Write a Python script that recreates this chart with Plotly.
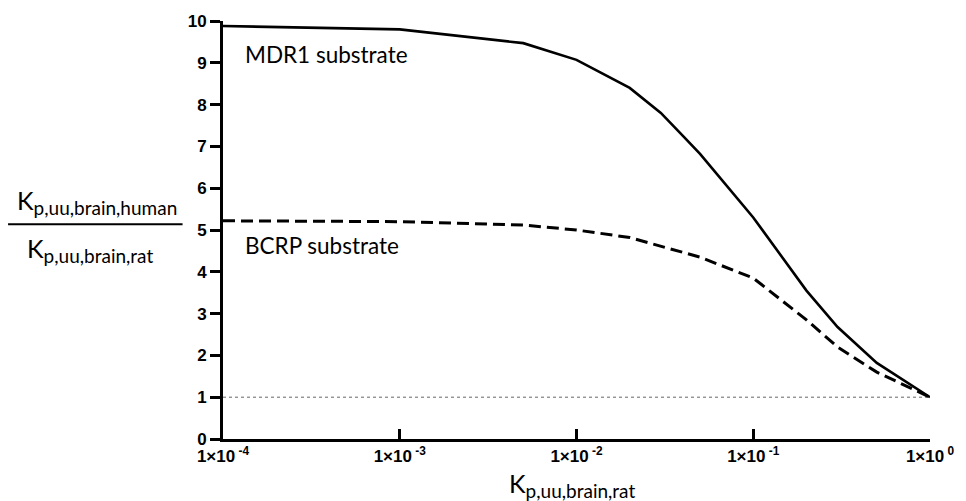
import plotly.graph_objects as go

# Data
x_vals = [1e-4, 1e-3, 5e-3, 1e-2, 2e-2, 3e-2, 4e-2, 5e-2, 1e-1, 2e-1, 3e-1, 5e-1, 1.0]
mdr1 = [9.88, 9.80, 9.47, 9.07, 8.40, 7.80, 7.25, 6.82, 5.30, 3.55, 2.68, 1.82, 1.0]

bcrp_x = [1e-4, 1e-3, 5e-3, 1e-2, 2e-2, 5e-2, 1e-1, 2e-1, 3e-1, 5e-1, 1.0]
bcrp = [5.22, 5.20, 5.12, 5.00, 4.82, 4.35, 3.85, 2.85, 2.20, 1.60, 1.0]

ref_x = [1e-4, 1.0]
ref_y = [1, 1]

x_tickvals = [1e-4, 1e-3, 1e-2, 1e-1, 1.0]
x_ticktext = ["1×10<sup> -4</sup>", "1×10<sup> -3</sup>", "1×10<sup> -2</sup>",
              "1×10<sup> -1</sup>", "1×10<sup> 0</sup>"]
y_tickvals = list(range(0, 11))

SUB = '<sub><span style="font-size:19px">{}</span></sub>'

fig = go.Figure()
fig.add_trace(go.Scatter(x=ref_x, y=ref_y, mode="lines",
                         line=dict(color="#666666", width=1, dash="dot"),
                         showlegend=False, hoverinfo="skip"))
fig.add_trace(go.Scatter(x=bcrp_x, y=bcrp, mode="lines",
                         line=dict(color="black", width=3, dash="12px,6px"),
                         showlegend=False, name="BCRP substrate"))
fig.add_trace(go.Scatter(x=x_vals, y=mdr1, mode="lines",
                         line=dict(color="black", width=2.6),
                         showlegend=False, name="MDR1 substrate"))

tick_font = dict(family="Liberation Sans", size=17, color="black", weight="bold")
label_font = dict(family="Lato", size=22.5, color="black")
title_font = dict(family="Lato", size=25, color="black")

fig.update_layout(
    width=966, height=501,
    margin=dict(l=223, r=26, t=21, b=62),
    paper_bgcolor="white", plot_bgcolor="white",
    xaxis=dict(type="log", range=[-4, 0], tickvals=x_tickvals, ticktext=x_ticktext,
               ticks="inside", ticklen=10, tickwidth=3, tickcolor="black",
               showline=True, linewidth=3, linecolor="black",
               showgrid=False, zeroline=False, tickfont=tick_font),
    yaxis=dict(range=[0, 10], tickvals=y_tickvals,
               ticks="outside", ticklen=10, tickwidth=3, tickcolor="black",
               showline=True, linewidth=3, linecolor="black",
               showgrid=False, zeroline=False, tickfont=tick_font),
    annotations=[
        dict(text="MDR1 substrate", x=-3.888, y=9.21, xref="x", yref="y",
             xanchor="left", yanchor="middle", showarrow=False, font=label_font),
        dict(text="BCRP substrate", x=-3.888, y=4.64, xref="x", yref="y",
             xanchor="left", yanchor="middle", showarrow=False, font=label_font),
        dict(text="K" + SUB.format("p,uu,brain,human"), x=-0.1785, y=0.5215,
             xref="paper", yref="paper", xanchor="center", yanchor="bottom",
             showarrow=False, font=title_font),
        dict(text="K" + SUB.format("p,uu,brain,rat"), x=-0.1883, y=0.4976,
             xref="paper", yref="paper", xanchor="center", yanchor="top",
             showarrow=False, font=title_font),
        dict(text="K" + SUB.format("p,uu,brain,rat"), x=0.4937, y=-0.11,
             xref="paper", yref="paper", xanchor="center", yanchor="middle",
             showarrow=False, font=title_font),
    ],
    shapes=[dict(type="line", xref="paper", yref="paper",
                 x0=-0.304, x1=-0.0572, y0=0.514, y1=0.514,
                 line=dict(color="black", width=2))],
)

fig.write_html("out.html",
               config={"displayModeBar": False},
               post_script="document.body.style.margin='0';document.body.style.overflow='hidden';")
